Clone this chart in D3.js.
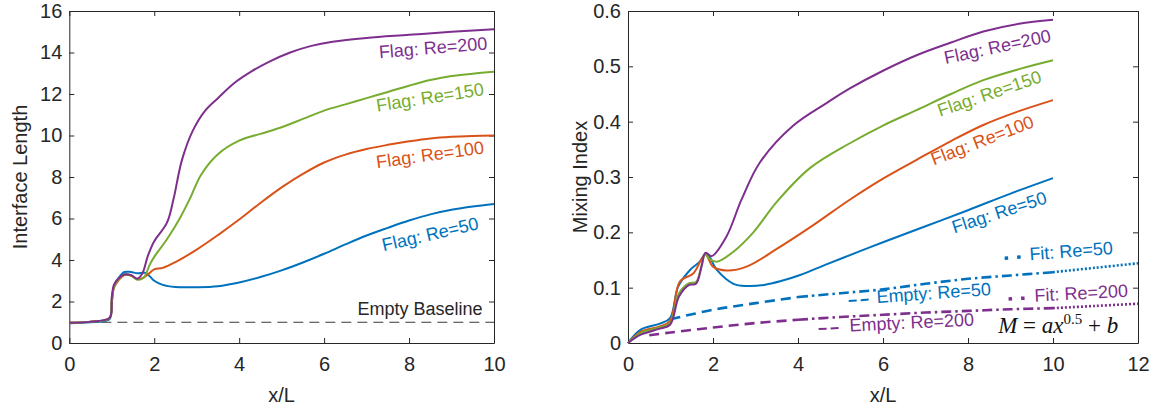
<!DOCTYPE html>
<html>
<head>
<meta charset="utf-8">
<script src="https://cdn.jsdelivr.net/npm/d3@7"></script>
<style>
  body { margin: 0; background: #fff; }
  svg { font-family: "Liberation Sans", Arial, sans-serif; }
</style>
</head>
<body>
<svg id="svg"></svg>
<script>
const svg = d3.select("#svg").attr("width", 1151).attr("height", 412)

// colours (MATLAB default order)
const blue = "#0072BD", orange = "#D95319", purple = "#7E2F8E", green = "#77AC30"
const ink = "#262626"

// ---- left panel: interface length, [x/L, value]
const ilRe50 = [[0,0.95],[0.5,1.0],[0.8,1.05],[0.95,1.15],[1.0,1.9],[1.05,2.7],[1.15,3.1],[1.3,3.42],[1.45,3.42],[1.6,3.36],[1.8,3.38],[1.9,3.2],[2.0,3.0],[2.2,2.8],[2.5,2.7],[3,2.69],[3.5,2.74],[4,2.92],[4.5,3.18],[5,3.5],[5.5,3.88],[6,4.3],[6.5,4.75],[7,5.18],[7.5,5.55],[8,5.9],[8.5,6.2],[9,6.42],[9.5,6.58],[10,6.7]]
const ilRe100 = [[0,0.97],[0.5,1.03],[0.95,1.2],[1.0,2.0],[1.05,2.65],[1.15,3.0],[1.3,3.28],[1.45,3.25],[1.6,3.08],[1.75,3.15],[1.85,3.3],[2.0,3.55],[2.2,3.62],[2.5,3.9],[3,4.5],[3.5,5.2],[4,5.95],[4.5,6.75],[5,7.5],[5.5,8.15],[6,8.7],[6.5,9.08],[7,9.35],[7.5,9.55],[8,9.72],[8.5,9.86],[9,9.94],[9.5,9.98],[10,10.0]]
const ilRe150 = [[0,0.97],[0.5,1.03],[0.95,1.2],[1.0,2.1],[1.05,2.7],[1.15,3.05],[1.3,3.3],[1.45,3.25],[1.6,3.05],[1.75,3.15],[1.9,3.8],[2.0,4.15],[2.3,5.0],[2.6,6.0],[2.85,7.0],[3.1,8.1],[3.5,9.1],[4,9.75],[4.5,10.08],[5,10.4],[5.5,10.8],[6,11.2],[6.5,11.5],[7,11.8],[7.5,12.1],[8,12.4],[8.5,12.67],[9,12.87],[9.5,12.98],[10,13.07]]
const ilRe200 = [[0,0.97],[0.5,1.03],[0.95,1.22],[1.0,2.2],[1.05,2.8],[1.15,3.1],[1.3,3.3],[1.45,3.28],[1.6,3.1],[1.72,3.35],[1.85,4.2],[2.0,4.9],[2.3,5.8],[2.45,6.9],[2.65,8.8],[2.9,10.2],[3.2,11.2],[3.5,11.8],[3.9,12.55],[4.3,13.1],[4.7,13.55],[5.2,14.0],[5.7,14.32],[6.2,14.52],[7,14.7],[8,14.85],[9,15.0],[10,15.12]]
const baseline = [[0,1],[10,1]]

// ---- right panel: mixing index
const miRe50 = [[0,0],[0.3,0.024],[0.75,0.035],[0.99,0.045],[1.18,0.102],[1.46,0.132],[1.69,0.147],[1.85,0.162],[2.09,0.132],[2.48,0.107],[2.8,0.103],[3.2,0.105],[3.6,0.112],[4.05,0.123],[4.7,0.143],[5.46,0.166],[6,0.182],[7,0.211],[8,0.24],[9,0.27],[10,0.298]]
const miRe100 = [[0,0],[0.3,0.02],[0.75,0.03],[0.99,0.04],[1.22,0.111],[1.54,0.126],[1.82,0.16],[2.0,0.138],[2.32,0.131],[2.79,0.138],[3.5,0.17],[4.36,0.213],[5.2,0.258],[6,0.297],[6.79,0.331],[7.6,0.365],[8.36,0.394],[9.2,0.419],[10,0.439]]
const miRe150 = [[0,0],[0.3,0.018],[0.75,0.028],[0.99,0.036],[1.2,0.09],[1.44,0.108],[1.6,0.11],[1.73,0.14],[1.82,0.162],[1.9,0.153],[2.09,0.147],[2.48,0.165],[2.95,0.2],[3.5,0.255],[4.28,0.316],[5.22,0.361],[6,0.393],[6.79,0.421],[7.6,0.45],[8.36,0.475],[9.2,0.495],[10,0.511]]
const miRe200 = [[0,0],[0.3,0.015],[0.75,0.026],[0.99,0.033],[1.2,0.084],[1.44,0.105],[1.6,0.107],[1.73,0.138],[1.82,0.163],[1.97,0.157],[2.32,0.193],[2.67,0.259],[3.11,0.327],[3.89,0.393],[4.68,0.434],[5.22,0.46],[6,0.492],[6.79,0.52],[7.6,0.543],[8.36,0.563],[9.2,0.577],[10,0.584]]
const emptyRe50 = [[1,0.043],[2,0.06],[3,0.072],[4,0.083]]
const fitRe50 = [[4,0.083],[5,0.09],[6,0.097],[7,0.107],[8,0.116],[9,0.122],[10,0.128]]
const fitExtRe50 = [[10,0.128],[11,0.136],[12,0.144]]
const emptyRe200 = [[0.5,0.014],[1,0.019],[2,0.028],[3,0.036],[4,0.042]]
const fitRe200 = [[4,0.042],[5,0.047],[6,0.051],[7,0.055],[8,0.058],[9,0.061],[10,0.063]]
const fitExtRe200 = [[10,0.063],[11,0.067],[12,0.071]]

// tick values
const xTicksL = [0, 2, 4, 6, 8, 10]
const yTicksL = [0, 2, 4, 6, 8, 10, 12, 14, 16]
const xTicksR = [0, 2, 4, 6, 8, 10, 12]
const yTicksR = [0, 0.1, 0.2, 0.3, 0.4, 0.5, 0.6]

const plotTop = 11, plotBottom = 343

function panel(left, right, xMax, yMax, xTicks, yTicks, yFmt, yLabel, yLabelX) {
    const x = d3.scaleLinear().domain([0, xMax]).range([left, right])
    const y = d3.scaleLinear().domain([0, yMax]).range([plotBottom, plotTop])
    const g = svg.append("g")

    const style = sel => {
        sel.select(".domain").attr("stroke", ink).attr("stroke-width", 1)
        sel.selectAll(".tick line").attr("stroke", ink)
        sel.selectAll("text").attr("fill", ink).attr("font-size", 20)
            .attr("font-family", "Liberation Sans, Arial, sans-serif")
    }
    g.append("g").attr("transform", `translate(0,${plotBottom})`)
        .call(d3.axisBottom(x).tickValues(xTicks).tickSize(-5).tickSizeOuter(0).tickPadding(14).tickFormat(d3.format("d")))
        .call(style)
    g.append("g").attr("transform", `translate(0,${plotTop})`)
        .call(d3.axisTop(x).tickValues(xTicks).tickSize(-5).tickSizeOuter(0).tickFormat(""))
        .call(style)
    g.append("g").attr("transform", `translate(${left},0)`)
        .call(d3.axisLeft(y).tickValues(yTicks).tickSize(-5).tickSizeOuter(0).tickPadding(7).tickFormat(yFmt))
        .call(style)
    g.append("g").attr("transform", `translate(${right},0)`)
        .call(d3.axisRight(y).tickValues(yTicks).tickSize(-5).tickSizeOuter(0).tickFormat(""))
        .call(style)

    g.append("text").attr("x", (left + right) / 2).attr("y", 402)
        .attr("text-anchor", "middle").attr("font-size", 20).attr("fill", ink).text("x/L")
    g.append("text").attr("transform", `translate(${yLabelX},${(plotTop + plotBottom) / 2}) rotate(-90)`)
        .attr("text-anchor", "middle").attr("font-size", 20).attr("fill", ink).text(yLabel)

    return { x, y, g }
}

const L = panel(69.3, 494, 10, 16, xTicksL, yTicksL, d3.format("d"), "Interface Length", 27)
const R = panel(628, 1138, 12, 0.6, xTicksR, yTicksR, d => d === 0 ? "0" : d3.format(".1f")(d), "Mixing Index", 587)

function draw(p, data, color, width, dash) {
    const line = d3.line().x(d => p.x(d[0])).y(d => p.y(d[1])).curve(d3.curveCatmullRom.alpha(0.5))
    p.g.append("path").datum(data).attr("d", line)
        .attr("fill", "none").attr("stroke", color).attr("stroke-width", width)
        .attr("stroke-dasharray", dash || null).attr("stroke-linejoin", "round")
}

// left
draw(L, baseline, "#3a3a3a", 1.2, "10,6")
draw(L, ilRe50, blue, 2)
draw(L, ilRe100, orange, 2)
draw(L, ilRe150, green, 2)
draw(L, ilRe200, purple, 2)

// right
draw(R, emptyRe50, blue, 2.6, "10,6")
draw(R, fitRe50, blue, 2.6, "10,4,2.5,4")
draw(R, fitExtRe50, blue, 2.6, "2,2")
draw(R, emptyRe200, purple, 2.6, "10,6")
draw(R, fitRe200, purple, 2.6, "10,4,2.5,4")
draw(R, fitExtRe200, purple, 2.6, "2,2")
draw(R, miRe50, blue, 2)
draw(R, miRe100, orange, 2)
draw(R, miRe150, green, 2)
draw(R, miRe200, purple, 2)

// curve labels: [text, x, y, angle, colour] anchored at the end of the text
const labelsL = [
    ["Flag: Re=200", 9.85, 14.15, -4.7, purple],
    ["Flag: Re=150", 9.78, 11.95, -8.8, green],
    ["Flag: Re=100", 9.78, 9.14, -7.9, orange],
    ["Flag: Re=50", 9.66, 5.49, -13, blue],
    ["Empty Baseline", 9.73, 1.35, 0, ink]
]
const labelsR = [
    ["Flag: Re=200", 9.97, 0.545, -12, purple],
    ["Flag: Re=150", 9.76, 0.472, -18.8, green],
    ["Flag: Re=100", 9.58, 0.391, -21, orange],
    ["Flag: Re=50", 9.88, 0.253, -18, blue]
]
function labels(p, list) {
    list.forEach(([t, lx, ly, a, c]) => {
        p.g.append("text")
            .attr("transform", `translate(${p.x(lx)},${p.y(ly)}) rotate(${a})`)
            .attr("text-anchor", "end").attr("font-size", 18).attr("fill", c).text(t)
    })
}
labels(L, labelsL)
labels(R, labelsR)

// legend entries: [text, x, y, angle, colour, symbol dash, symbol width, symbol length, text offset]
const legendR = [
    ["Fit: Re=50", 8.87, 0.146, -4.3, blue, "3.5,9", 3.5, 19, 25],
    ["Empty: Re=50", 5.2, 0.0687, -4, blue, "8,4", 2, 22, 28],
    ["Fit: Re=200", 8.96, 0.0723, -3, purple, "3.5,9", 3.5, 19, 26],
    ["Empty: Re=200", 4.49, 0.018, -2.8, purple, "8,4", 2, 23, 31]
]
legendR.forEach(([t, lx, ly, a, c, dash, w, len, tx]) => {
    const lg = R.g.append("g").attr("transform", `translate(${R.x(lx)},${R.y(ly)}) rotate(${a})`)
    lg.append("line").attr("x1", 0).attr("x2", len).attr("y1", -4).attr("y2", -4)
        .attr("stroke", c).attr("stroke-width", w).attr("stroke-dasharray", dash)
    lg.append("text").attr("x", tx).attr("font-size", 18).attr("fill", c).text(t)
})

// fit formula
const f = R.g.append("text")
    .attr("transform", `translate(${R.x(8.71)},${R.y(0.018)})`)
    .attr("font-family", "Liberation Serif, DejaVu Serif, serif").attr("font-size", 23).attr("fill", "#111")
f.append("tspan").attr("font-style", "italic").text("M")
f.append("tspan").text(" = ")
f.append("tspan").attr("font-style", "italic").text("ax")
f.append("tspan").attr("font-size", 15).attr("dy", -9).text("0.5")
f.append("tspan").attr("dy", 9).text(" + ")
f.append("tspan").attr("font-style", "italic").text("b")
</script>
</body>
</html>
